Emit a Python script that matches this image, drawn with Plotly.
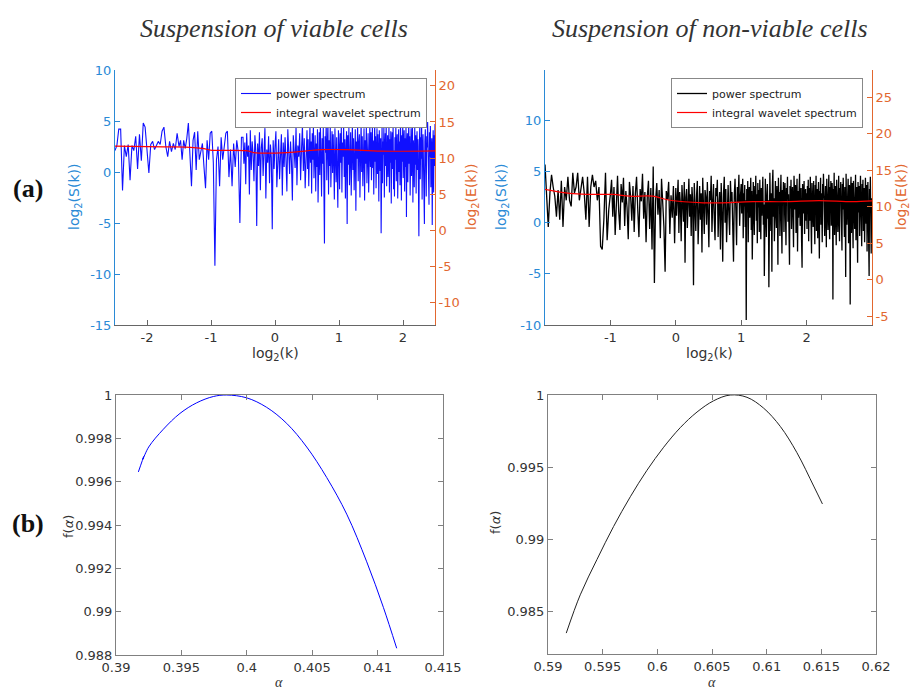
import numpy as np
import plotly.graph_objects as go

# ---------------- DATA ----------------
# Suspension of viable cells: power spectrum log2(S(k)) read per log2(k) segment
viable_bounds = [-2.5, -1.5, -0.5, 0.5, 1.5, 2.5]
viable_S_seg1 = [2.1, 2.6, 4.2, 4.2, -1.8, 2.6, 1.5, 2.7, -0.8, 2.6, 2.1, 3.5, 0.3, 3.7, 1.1, 4.8, 4.4,
                 2.5, -0.1, 2.7, 3.0, 2.2, 2.7, 3.0, 2.7, 4.0, 4.4, 2.5, 1.5, 3.0, 2.0, 2.8, 2.2, 3.8]
viable_S_seg2 = [2.5, 3.1, 1.2, 3.1, 2.3, 3.3, 4.8, 1.2, -1.4, 3.1, 3.9, 0.2, 4.0, 1.2, 2.2, 2.8, 0.5,
                 -1.6, 3.1, 1.2, 3.8, 4.0, 0.9, -9.2, 1.2, 2.5, -1.4, 3.4, 1.2, 2.5, 3.8, 4.0, -0.5,
                 2.2, -1.4, 2.8, 0.5, 3.1, 1.9, -5.0, 3.4]
viable_S_seg3 = [3.4, 0.8, 2.9, -1.2, 3.8, 1.5, 2.6, -2.2, 4.1, 0.2,
                 3.0, 1.8, -0.9, 3.6, 2.1, -5.3, 2.8, 0.6, 3.9, -1.8,
                 2.4, 3.3, -0.4, 1.9, 4.3, -2.6, 2.2, 0.9, 3.5, -1.1,
                 2.7, 1.4, -5.6, 3.1, 0.3, 2.5, 4.0, -1.5, 2.0, 3.2,
                 -0.7, 1.6, 3.7, -2.3, 2.9, 0.5, 3.4, 1.2, -1.9, 4.2,
                 2.3, -0.2, 3.0, 1.0, -2.8, 3.6, 2.0, 0.4, 4.4, -1.3,
                 2.6, 1.5, 3.8, -0.8, 2.2, 4.6, 0.1, 3.3, -1.6, 2.7]
viable_S_seg4 = [4.1, 0.3, 3.2, -1.4, 2.6, 4.5, 0.9, 3.0, -2.1, 3.8,
                 1.2, 4.7, -0.6, 2.4, 3.6, -1.9, 2.8, 0.5, 4.2, -3.0,
                 2.1, 3.9, -0.3, 4.8, 1.4, -2.4, 3.3, 0.8, 4.4, -1.2,
                 -7.0, 3.5, 1.9, 4.9, -0.8, 2.7, 5.0, -2.2, 3.1, 0.6,
                 4.6, -1.5, 2.3, 4.0, -0.1, 3.7, 1.1, -2.7, 4.3, 2.0,
                 -1.0, 3.4, 0.4, -3.5, 4.1, 2.5, -1.7, 3.8, 0.9, 4.5,
                 -2.0, 2.9, 1.5, 4.7, -0.5, 3.2, -2.6, 2.2, 4.0, -5.1,
                 3.6, 0.7, 4.4, -1.3, 2.6, 3.9, -2.3, 1.8, 4.8, 0.2,
                 3.3, -1.8, 2.4, 4.2, -3.8, 3.0, 1.3, 4.6, -0.9, 2.8,
                 3.7, -2.5, 1.6, 4.9, 0.0, 3.5, -1.4, 2.1, 4.3, -2.8,
                 3.1, 0.8, 4.5, -1.1, 2.7, 3.8, -2.0, 1.9, 4.6, 0.5]
viable_S_seg5 = [3.9, -0.8, 2.7, 4.6, 0.4, 3.1, -2.2, 2.3, 4.9, 1.0,
                 3.5, -1.6, 2.0, 4.3, -0.2, 3.7, 1.4, -2.9, 4.1, 2.6,
                 0.1, 3.3, -6.0, 2.8, 4.7, -1.1, 3.0, 1.7, 4.4, -2.5,
                 2.2, 3.8, 0.6, 4.9, -1.4, 2.9, 3.6, -0.5, 1.8, 4.5,
                 -2.0, 3.2, 0.9, 4.0, -3.1, 2.5, 3.9, 0.3, 4.8, -1.7,
                 2.1, -2.4, 3.4, 1.2, 4.6, -0.9, 2.7, 3.7, -2.6, 1.5,
                 4.2, 0.0, 3.0, -1.3, 4.9, 2.3, -2.8, 3.6, 1.0, 5.2,
                 -0.6, 2.8, 4.1, -1.9, 3.3, 0.5, 4.5, -4.4, 2.4, 3.8,
                 -1.0, 2.0, 5.1, 0.8, 3.5, -2.3, 2.9, 4.3, -0.4, 1.6,
                 4.7, -3.0, 3.1, 2.2, -1.5, 4.4, 0.7, 3.6, -2.1, 2.6,
                 4.0, 0.2, 3.2, -1.2, -6.3, 2.5, 4.6, -0.7, 3.4, 1.3,
                 4.8, -2.7, 2.0, 3.7, 0.4, -1.8, -5.1, 3.0, 4.2, 1.1,
                 -2.4, 3.5, 2.4, 4.9, -0.3, 2.8, -3.2, 3.9, 1.5, 4.5,
                 -1.5, 2.2, 3.3, -5.2, 1.8, 4.1, -2.0, 3.6, 0.6, 4.7]
viable_E_x = [-2.5, -1.74, -1.27, -1.11, -1.01, -0.43, -0.33, 0.19, 0.72, 1.13, 1.66, 2.5]
viable_E_y = [11.65, 11.55, 11.45, 11.3, 11.1, 11.0, 10.75, 10.75, 11.15, 11.15, 10.95, 11.0]

# Suspension of non-viable cells
nonviable_bounds = [-2.0, -1.0, 0.0, 1.0, 2.0, 3.0]
nonviable_S_seg1 = [5.7, 2.3, -0.4, 2.9, 4.7, 3.5, 2.6, 0.6, 3.2, 0.3,
                    4.1, -0.4, 3.5, 2.2, 4.5, 2.2, 1.6, 4.9, 2.9, 3.5,
                    4.9, 2.2, 3.2, 4.5, 2.9, 0.3, 4.5, -0.4, 3.5, 4.7,
                    3.5, 4.1, 2.2, 3.5, -2.3, -2.6, 0.3, 4.9, -1.7, 1.3]
nonviable_S_seg2 = [2.8, 4.2, 0.6, 3.5, -1.2, 2.4, 4.6, 1.1, -0.7, 3.8,
                    2.0, 4.4, -0.3, 3.1, 1.5, -1.6, 4.0, 2.6, 0.2, 3.6,
                    -0.9, 2.9, 4.5, 1.3, -1.4, 3.3, 2.1, 4.8, 0.4, 3.0,
                    -1.9, 2.5, 4.1, -0.6, 3.4, -2.6, 5.5, -5.9, 2.2, 3.9,
                    0.8, 3.2, -1.5, 4.3, 1.7, -0.4, -4.8, 3.1, 2.3, 4.0,
                    -1.1, 2.7, 0.5, 3.6, -2.0]
nonviable_S_seg3 = [3.4, 0.7, 2.6, 4.2, -1.0, 3.0, 1.8, -1.8, 3.7, 2.2,
                    0.1, 4.0, -3.9, 2.5, 3.3, -0.5, 1.9, 4.3, 0.6, 2.8,
                    -1.3, 3.5, 2.0, -6.1, 3.9, 1.2, -0.8, 2.7, 4.1, -2.1,
                    2.3, 3.6, 0.3, 2.9, -2.9, 4.4, 1.6, -1.1, 3.2, 2.5,
                    -0.2, 4.0, 1.0, -2.4, 3.1, 2.2, 4.6, -0.9, 2.0, 3.8,
                    0.4, -1.7, 3.4, 2.6, 4.2, -1.4, 1.7, 3.0, -2.6, 3.9,
                    1.1, -3.8, 2.8, 4.5, 0.0, 3.3, -1.9, 2.4, 3.7, 0.8,
                    -1.2, 4.1, 2.1, 3.0, -0.6, -3.8, 2.7, 4.3, 1.4, -2.2,
                    3.5, 2.0, 4.7, -0.3, 2.6]
nonviable_S_seg4 = [3.8, 0.9, 2.4, 4.3, -1.5, 2.9, 1.6, 3.7, -0.4, 2.2,
                    -9.5, 3.3, 1.0, 4.1, -1.9, 2.6, 3.5, 0.5, 2.0, 4.4,
                    -0.7, 3.1, -3.6, 2.5, 4.0, 1.3, -1.2, 3.6, 2.1, 4.6,
                    0.2, 2.8, -2.0, 3.9, 1.5, 3.2, -0.9, 4.2, 2.3, -1.6,
                    3.4, 0.7, 2.7, 4.5, -0.2, 1.8, -5.2, 3.0, 4.3, 1.1,
                    -1.4, 2.6, 3.8, 0.4, 2.2, -6.3, 3.5, 4.9, 1.7, -0.8,
                    2.9, -4.8, 3.7, 5.2, 0.6, 2.4, -1.8, 3.3, 4.1, 1.2,
                    -0.5, 3.6, 2.0, -4.1, 4.4, 1.9, 3.0, -1.3, 2.5, 4.7,
                    0.3, -3.0, 3.2, 2.1, 4.0, -0.9, 2.7, 3.9, 1.0, -2.2,
                    3.4, 2.3, 4.5, 0.1, 2.8, -1.5, -4.1, 3.6, 1.4, 4.2,
                    -0.6, 2.2, 3.5, 0.8, -2.4, 4.6, 2.6, 1.3, 3.7, -1.0,
                    2.0, 4.3, -2.8, 3.1, 0.5, 2.9, 4.8, -0.3, 1.7, 3.4,
                    -1.7, -4.4, 3.8, 2.4, 0.9, 4.1, -1.1, 2.7, 3.3, 0.2]
nonviable_S_seg5 = [2.9, -0.6, 3.6, 1.4, 4.2, -1.8, 2.3, 3.4, 0.2, 4.5,
                    -1.1, 2.7, -3.0, 3.9, 1.6, 2.5, -0.4, 4.1, 0.9, 3.0,
                    -2.1, 3.7, 2.0, 4.6, -0.8, 1.8, 3.3, -1.5, 2.6, 4.0,
                    0.5, -3.5, 3.1, 2.2, 4.4, -0.2, 2.9, 1.2, -1.9, 3.8,
                    2.4, 4.8, 0.0, 3.2, -1.3, 2.1, 3.6, 1.0, -2.4, 4.3,
                    1.9, 3.0, -0.7, 2.6, 4.7, 0.6, -1.6, 3.5, 2.3, 4.1,
                    -0.3, 1.5, 3.9, 2.8, -7.5, 3.3, 0.8, 4.9, -1.2, 2.4,
                    3.6, 0.3, -2.2, 4.2, 1.7, 3.0, -0.9, 2.5, 4.6, 0.7,
                    -1.8, 3.4, 2.0, 4.0, -0.5, 2.7, -2.7, 3.8, 1.3, 4.4,
                    0.1, 2.9, -1.4, 3.5, 2.2, -5.3, 4.8, 1.1, -0.2, 3.1,
                    2.5, 4.3, -2.0, 1.6, 3.7, 0.9, -8.0, 3.2, 4.5, -1.0,
                    2.3, 3.9, 0.4, -2.5, 4.1, 2.0, 3.3, -0.6, 1.8, 4.7,
                    -1.7, 2.8, 3.5, 0.2, -3.9, 4.0, 2.4, 1.0, 3.6, -1.3,
                    2.1, 4.6, 0.6, 3.0, -2.3, 3.8, 1.5, 4.2, -0.8, 2.6,
                    3.4, -1.9, 0.8, 4.4, 2.2, -0.1, 3.7, -2.8, 1.9, 4.0,
                    0.3, 2.7, -5.2, 3.3, 1.2, 4.5, -1.5, -3.0, 2.4, 1.0]
nonviable_E_x = [-2.0, -1.62, -1.36, -0.96, -0.70, -0.35, -0.09, 0.42, 0.67, 1.18, 1.69, 2.19, 2.70, 3.0]
nonviable_E_y = [12.4, 11.84, 11.7, 11.7, 11.45, 11.45, 10.9, 10.55, 10.55, 10.7, 10.7, 10.85, 10.7, 10.8]

# Multifractal spectra f(alpha)
alpha_viable = [0.39171, 0.39212, 0.39205, 0.39250, 0.39362, 0.39489, 0.39617, 0.39744, 0.39846,
                0.39999, 0.40152, 0.40305, 0.40458, 0.40611, 0.40764, 0.40917, 0.41044, 0.41146]
f_viable = [0.99645, 0.99716, 0.99703, 0.99760, 0.99842, 0.99915, 0.99964, 0.99993, 1.00000,
            0.99987, 0.99943, 0.99869, 0.99760, 0.99619, 0.99450, 0.99230, 0.99020, 0.98831]
alpha_nonviable = [0.59167, 0.59295, 0.59448, 0.59600, 0.59753, 0.59905, 0.60058, 0.60210, 0.60363,
                   0.60515, 0.60667, 0.60820, 0.60972, 0.61125, 0.61277, 0.61430, 0.61510]
f_nonviable = [0.98350, 0.98615, 0.98860, 0.99089, 0.99295, 0.99478, 0.99638, 0.99774, 0.99882,
               0.99960, 1.00000, 0.99984, 0.99909, 0.99782, 0.99600, 0.99369, 0.99245]

# Tick labels
tl_x_viable = [-2, -1, 0, 1, 2]
tl_x_nonviable = [-1, 0, 1, 2]
tl_S_viable = [-15, -10, -5, 0, 5, 10]
tl_E_viable = [-10, -5, 0, 5, 10, 15, 20]
tl_S_nonviable = [-10, -5, 0, 5, 10]
tl_E_nonviable = [-5, 0, 5, 10, 15, 20, 25]
tl_alpha_viable = [0.39, 0.395, 0.4, 0.405, 0.41, 0.415]
tl_f_viable = [0.988, 0.99, 0.992, 0.994, 0.996, 0.998, 1]
tl_alpha_nonviable = [0.59, 0.595, 0.6, 0.605, 0.61, 0.615, 0.62]
tl_f_nonviable = [0.985, 0.99, 0.995, 1]


def seg_x(bounds, segs):
    xs = []
    last = len(segs) - 1
    for i, s in enumerate(segs):
        xs.extend(np.linspace(bounds[i], bounds[i + 1], len(s), endpoint=(i == last)))
    return xs, [v for s in segs for v in s]


xv, Sv = seg_x(viable_bounds, [viable_S_seg1, viable_S_seg2, viable_S_seg3, viable_S_seg4, viable_S_seg5])
xn, Sn = seg_x(nonviable_bounds, [nonviable_S_seg1, nonviable_S_seg2, nonviable_S_seg3,
                                  nonviable_S_seg4, nonviable_S_seg5])


def lab(v):
    return '%g' % v


W, H = 912, 691
def px(x): return x / W
def py(y): return 1 - y / H

BLUE_AX = '#2a8ad6'
ORANGE_AX = '#e2672f'
GRAY_AX = '#666666'
TXT = '#333333'
FONT = 'DejaVu Sans'

fig = go.Figure()
fig.add_trace(go.Scatter(x=xv, y=Sv, xaxis='x', yaxis='y', mode='lines', name='power spectrum',
                         line=dict(color='#1010ff', width=1.1), legend='legend'))
fig.add_trace(go.Scatter(x=viable_E_x, y=viable_E_y, xaxis='x', yaxis='y2', mode='lines',
                         name='integral wavelet spectrum',
                         line=dict(color='#ff0000', width=1.2, shape='spline'), legend='legend'))
fig.add_trace(go.Scatter(x=xn, y=Sn, xaxis='x2', yaxis='y3', mode='lines', name='power spectrum',
                         line=dict(color='#000000', width=1.3), legend='legend2'))
fig.add_trace(go.Scatter(x=nonviable_E_x, y=nonviable_E_y, xaxis='x2', yaxis='y4', mode='lines',
                         name='integral wavelet spectrum',
                         line=dict(color='#ff0000', width=1.2, shape='spline'), legend='legend2'))
fig.add_trace(go.Scatter(x=alpha_viable, y=f_viable, xaxis='x3', yaxis='y5', mode='lines',
                         line=dict(color='#0000ff', width=1, shape='spline'), showlegend=False))
fig.add_trace(go.Scatter(x=alpha_nonviable, y=f_nonviable, xaxis='x4', yaxis='y6', mode='lines',
                         line=dict(color='#222222', width=1, shape='spline'), showlegend=False))


def axis(domain, rng, vals, color, linecolor, **kw):
    d = dict(domain=domain, range=rng, tickvals=vals, ticktext=[lab(v) for v in vals],
             ticks='inside', ticklen=5, tickwidth=1, tickcolor=linecolor, showline=True,
             linecolor=linecolor, linewidth=1, showgrid=False, zeroline=False, automargin=False,
             tickfont=dict(family=FONT, size=13, color=color), fixedrange=True)
    d.update(kw)
    return d

top_dom = [py(325), py(70)]
fig.update_layout(
    width=W, height=H, autosize=False,
    margin=dict(l=0, r=0, t=0, b=0, pad=0, autoexpand=False),
    paper_bgcolor='white', plot_bgcolor='white',
    xaxis=axis([px(115), px(435)], [-2.5, 2.5], tl_x_viable, TXT, GRAY_AX, anchor='y'),
    yaxis=axis(top_dom, [-15, 10], tl_S_viable, BLUE_AX, BLUE_AX, anchor='x'),
    yaxis2=axis(top_dom, [-13.15, 22.2], tl_E_viable, ORANGE_AX, ORANGE_AX,
                anchor='x', overlaying='y', side='right'),
    xaxis2=axis([px(545), px(872)], [-2, 3], tl_x_nonviable, TXT, GRAY_AX, anchor='y3'),
    yaxis3=axis(top_dom, [-10, 14.95], tl_S_nonviable, BLUE_AX, BLUE_AX, anchor='x2'),
    yaxis4=axis(top_dom, [-6.2, 28.75], tl_E_nonviable, ORANGE_AX, ORANGE_AX,
                anchor='x2', overlaying='y3', side='right'),
    xaxis3=axis([px(116), px(443)], [0.39, 0.415], tl_alpha_viable, TXT, '#808080',
                anchor='y5', mirror='ticks'),
    yaxis5=axis([py(655), py(395)], [0.988, 1.0], tl_f_viable, TXT, '#808080',
                anchor='x3', mirror='ticks'),
    xaxis4=axis([px(548), px(876)], [0.59, 0.62], tl_alpha_nonviable, TXT, '#808080',
                anchor='y6', mirror='ticks'),
    yaxis6=axis([py(654), py(395)], [0.98205, 1.0], tl_f_nonviable, TXT, '#808080',
                anchor='x4', mirror='ticks'),
    legend=dict(x=px(427), y=py(78), xanchor='right', yanchor='top', bgcolor='white',
                bordercolor='#888888', borderwidth=1, itemwidth=30,
                font=dict(family=FONT, size=11, color='#222222')),
    legend2=dict(x=px(863), y=py(78), xanchor='right', yanchor='top', bgcolor='white',
                 bordercolor='#888888', borderwidth=1, itemwidth=30,
                 font=dict(family=FONT, size=11, color='#222222')),
    showlegend=True,
)

ann = []
def add(text, x, y, size=14, color=TXT, angle=0, family=FONT):
    ann.append(dict(text=text, x=px(x), y=py(y), xref='paper', yref='paper', showarrow=False,
                    xanchor='center', yanchor='middle', textangle=angle,
                    font=dict(family=family, size=size, color=color)))

add('<i>Suspension of viable cells</i>', 274, 28, size=26, family='Liberation Serif')
add('<i>Suspension of non-viable cells</i>', 710, 28, size=26, family='Liberation Serif')
add('<b>(a)</b>', 28, 188, size=26, color='#111111', family='Liberation Serif')
add('<b>(b)</b>', 28, 523, size=26, color='#111111', family='Liberation Serif')
add('log<sub>2</sub>(S(k))', 75, 197, color=BLUE_AX, angle=-90)
add('log<sub>2</sub>(E(k))', 472, 197, color=ORANGE_AX, angle=-90)
add('log<sub>2</sub>(S(k))', 502, 197, color=BLUE_AX, angle=-90)
add('log<sub>2</sub>(E(k))', 902, 197, color=ORANGE_AX, angle=-90)
add('log<sub>2</sub>(k)', 275, 354, color=TXT)
add('log<sub>2</sub>(k)', 709, 354, color=TXT)
add('f(<i>α</i>)', 68, 527, size=13, color=TXT, angle=-90)
add('f(<i>α</i>)', 495, 523, size=13, color=TXT, angle=-90)
add('<i>α</i>', 279, 682, size=14, color=TXT, family='Liberation Serif')
add('<i>α</i>', 712, 682, size=14, color=TXT, family='Liberation Serif')
fig.update_layout(annotations=ann)

fig.write_html("out.html", config={'displayModeBar': False},
               post_script="document.body.style.margin='0';document.body.style.overflow='hidden';")
